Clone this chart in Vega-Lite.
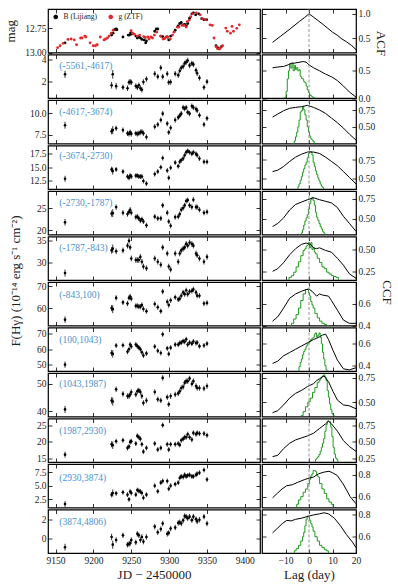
{
"$schema":"https://vega.github.io/schema/vega-lite/v6.json",
"padding":{"left":3,"top":7,"right":2,"bottom":2},
"background":"white",
"columns":2,"align":"each","bounds":"flush","spacing":{"row":1.5,"column":2},
"datasets":{
"top":[
{"b":"B (Lijiang)","t":9162.5,"m":12.90,"e":0.006},{"b":"B (Lijiang)","t":9224,"m":12.82,"e":0.006},{"b":"B (Lijiang)","t":9226,"m":12.80,"e":0.006},{"b":"B (Lijiang)","t":9228,"m":12.765,"e":0.006},{"b":"B (Lijiang)","t":9230,"m":12.755,"e":0.006},{"b":"B (Lijiang)","t":9231,"m":12.765,"e":0.006},{"b":"B (Lijiang)","t":9239,"m":12.84,"e":0.006},{"b":"B (Lijiang)","t":9246,"m":12.82,"e":0.006},{"b":"B (Lijiang)","t":9247.5,"m":12.82,"e":0.006},{"b":"B (Lijiang)","t":9249,"m":12.80,"e":0.006},{"b":"B (Lijiang)","t":9250,"m":12.81,"e":0.006},{"b":"B (Lijiang)","t":9256,"m":12.83,"e":0.006},{"b":"B (Lijiang)","t":9258,"m":12.85,"e":0.006},{"b":"B (Lijiang)","t":9260,"m":12.84,"e":0.006},{"b":"B (Lijiang)","t":9262,"m":12.85,"e":0.006},{"b":"B (Lijiang)","t":9264,"m":12.865,"e":0.006},{"b":"B (Lijiang)","t":9267,"m":12.87,"e":0.006},{"b":"B (Lijiang)","t":9269,"m":12.90,"e":0.006},{"b":"B (Lijiang)","t":9270,"m":12.88,"e":0.006},{"b":"B (Lijiang)","t":9281,"m":12.78,"e":0.006},{"b":"B (Lijiang)","t":9283,"m":12.757,"e":0.006},{"b":"B (Lijiang)","t":9285,"m":12.757,"e":0.006},{"b":"B (Lijiang)","t":9289,"m":12.83,"e":0.006},{"b":"B (Lijiang)","t":9291.5,"m":12.835,"e":0.006},{"b":"B (Lijiang)","t":9297.5,"m":12.84,"e":0.006},{"b":"B (Lijiang)","t":9299.5,"m":12.87,"e":0.006},{"b":"B (Lijiang)","t":9302,"m":12.83,"e":0.006},{"b":"B (Lijiang)","t":9308,"m":12.77,"e":0.006},{"b":"B (Lijiang)","t":9312,"m":12.724,"e":0.006},{"b":"B (Lijiang)","t":9314,"m":12.70,"e":0.006},{"b":"B (Lijiang)","t":9316,"m":12.69,"e":0.006},{"b":"B (Lijiang)","t":9318.5,"m":12.715,"e":0.006},{"b":"B (Lijiang)","t":9320.5,"m":12.71,"e":0.006},{"b":"B (Lijiang)","t":9322.5,"m":12.724,"e":0.006},{"b":"B (Lijiang)","t":9324.5,"m":12.70,"e":0.006},{"b":"B (Lijiang)","t":9327,"m":12.646,"e":0.006},{"b":"B (Lijiang)","t":9330,"m":12.60,"e":0.006},{"b":"B (Lijiang)","t":9332,"m":12.59,"e":0.006},{"b":"B (Lijiang)","t":9335,"m":12.61,"e":0.006},{"b":"B (Lijiang)","t":9339,"m":12.60,"e":0.006},{"b":"B (Lijiang)","t":9343,"m":12.65,"e":0.006},{"b":"B (Lijiang)","t":9346,"m":12.66,"e":0.006},{"b":"B (Lijiang)","t":9349.5,"m":12.66,"e":0.006},{"b":"B (Lijiang)","t":9362,"m":12.93,"e":0.006},{"b":"B (Lijiang)","t":9364,"m":12.95,"e":0.006},{"b":"B (Lijiang)","t":9366,"m":12.96,"e":0.006},{"b":"B (Lijiang)","t":9369,"m":12.94,"e":0.006},
{"b":"g (ZTF)","t":9152.7,"m":12.95,"e":0.006},{"b":"g (ZTF)","t":9156,"m":12.93,"e":0.006},{"b":"g (ZTF)","t":9160,"m":12.905,"e":0.006},{"b":"g (ZTF)","t":9166.4,"m":12.865,"e":0.006},{"b":"g (ZTF)","t":9170.6,"m":12.86,"e":0.006},{"b":"g (ZTF)","t":9174.75,"m":12.87,"e":0.006},{"b":"g (ZTF)","t":9177.7,"m":12.92,"e":0.006},{"b":"g (ZTF)","t":9183,"m":12.85,"e":0.006},{"b":"g (ZTF)","t":9185,"m":12.85,"e":0.006},{"b":"g (ZTF)","t":9188.5,"m":12.83,"e":0.006},{"b":"g (ZTF)","t":9190,"m":12.84,"e":0.006},{"b":"g (ZTF)","t":9195.6,"m":12.90,"e":0.006},{"b":"g (ZTF)","t":9199.75,"m":12.93,"e":0.006},{"b":"g (ZTF)","t":9202.7,"m":12.93,"e":0.006},{"b":"g (ZTF)","t":9205,"m":12.92,"e":0.006},{"b":"g (ZTF)","t":9209,"m":12.84,"e":0.006},{"b":"g (ZTF)","t":9214,"m":12.87,"e":0.006},{"b":"g (ZTF)","t":9216,"m":12.86,"e":0.006},{"b":"g (ZTF)","t":9218.5,"m":12.85,"e":0.006},{"b":"g (ZTF)","t":9220.6,"m":12.83,"e":0.006},{"b":"g (ZTF)","t":9223.5,"m":12.80,"e":0.006},{"b":"g (ZTF)","t":9226,"m":12.77,"e":0.006},{"b":"g (ZTF)","t":9249.75,"m":12.775,"e":0.006},{"b":"g (ZTF)","t":9251.8,"m":12.80,"e":0.006},{"b":"g (ZTF)","t":9254,"m":12.81,"e":0.006},{"b":"g (ZTF)","t":9258,"m":12.83,"e":0.006},{"b":"g (ZTF)","t":9261,"m":12.82,"e":0.006},{"b":"g (ZTF)","t":9266.4,"m":12.835,"e":0.006},{"b":"g (ZTF)","t":9268.5,"m":12.845,"e":0.006},{"b":"g (ZTF)","t":9271.8,"m":12.84,"e":0.006},{"b":"g (ZTF)","t":9273.5,"m":12.86,"e":0.006},{"b":"g (ZTF)","t":9276,"m":12.84,"e":0.006},{"b":"g (ZTF)","t":9278,"m":12.85,"e":0.006},{"b":"g (ZTF)","t":9280.5,"m":12.82,"e":0.006},{"b":"g (ZTF)","t":9283.5,"m":12.79,"e":0.006},{"b":"g (ZTF)","t":9289,"m":12.83,"e":0.006},{"b":"g (ZTF)","t":9292,"m":12.86,"e":0.006},{"b":"g (ZTF)","t":9294,"m":12.855,"e":0.006},{"b":"g (ZTF)","t":9296,"m":12.84,"e":0.006},{"b":"g (ZTF)","t":9298,"m":12.84,"e":0.006},{"b":"g (ZTF)","t":9301.5,"m":12.86,"e":0.006},{"b":"g (ZTF)","t":9304.5,"m":12.82,"e":0.006},{"b":"g (ZTF)","t":9306.5,"m":12.79,"e":0.006},{"b":"g (ZTF)","t":9310.7,"m":12.737,"e":0.006},{"b":"g (ZTF)","t":9312.8,"m":12.737,"e":0.006},{"b":"g (ZTF)","t":9317,"m":12.72,"e":0.006},{"b":"g (ZTF)","t":9319.8,"m":12.72,"e":0.006},{"b":"g (ZTF)","t":9322.5,"m":12.737,"e":0.006},{"b":"g (ZTF)","t":9324,"m":12.68,"e":0.006},{"b":"g (ZTF)","t":9326.5,"m":12.665,"e":0.006},{"b":"g (ZTF)","t":9328.5,"m":12.63,"e":0.006},{"b":"g (ZTF)","t":9331,"m":12.60,"e":0.006},{"b":"g (ZTF)","t":9336,"m":12.59,"e":0.006},{"b":"g (ZTF)","t":9341,"m":12.61,"e":0.006},{"b":"g (ZTF)","t":9344,"m":12.65,"e":0.006},{"b":"g (ZTF)","t":9348,"m":12.66,"e":0.006},{"b":"g (ZTF)","t":9354,"m":12.714,"e":0.006},{"b":"g (ZTF)","t":9357,"m":12.72,"e":0.006},{"b":"g (ZTF)","t":9359.3,"m":12.85,"e":0.006},{"b":"g (ZTF)","t":9362,"m":12.94,"e":0.006},{"b":"g (ZTF)","t":9364,"m":12.96,"e":0.006},{"b":"g (ZTF)","t":9366.4,"m":12.965,"e":0.006},{"b":"g (ZTF)","t":9368,"m":12.95,"e":0.006},{"b":"g (ZTF)","t":9370.6,"m":12.93,"e":0.006},{"b":"g (ZTF)","t":9374.75,"m":12.747,"e":0.006},{"b":"g (ZTF)","t":9376.8,"m":12.78,"e":0.006},{"b":"g (ZTF)","t":9381,"m":12.80,"e":0.006},{"b":"g (ZTF)","t":9383,"m":12.73,"e":0.006},{"b":"g (ZTF)","t":9385,"m":12.78,"e":0.006},{"b":"g (ZTF)","t":9389.3,"m":12.75,"e":0.006},{"b":"g (ZTF)","t":9392.7,"m":12.714,"e":0.006}
],
"lc":[
{"r":2,"t":9162.5,"f":2.68,"e":0.33},{"r":2,"t":9224,"f":1.67,"e":0.3},{"r":2,"t":9225.5,"f":2.68,"e":0.4},{"r":2,"t":9230,"f":1.59,"e":0.3},{"r":2,"t":9239,"f":1.48,"e":0.25},{"r":2,"t":9245,"f":1.4,"e":0.25},{"r":2,"t":9247,"f":1.94,"e":0.25},{"r":2,"t":9248.5,"f":1.99,"e":0.25},{"r":2,"t":9250,"f":1.94,"e":0.25},{"r":2,"t":9256,"f":1.6,"e":0.25},{"r":2,"t":9258,"f":1.48,"e":0.25},{"r":2,"t":9260,"f":1.67,"e":0.25},{"r":2,"t":9262,"f":1.4,"e":0.25},{"r":2,"t":9264,"f":1.26,"e":0.25},{"r":2,"t":9266,"f":1.97,"e":0.25},{"r":2,"t":9270,"f":2.24,"e":0.25},{"r":2,"t":9281,"f":2.73,"e":0.25},{"r":2,"t":9285,"f":2.46,"e":0.25},{"r":2,"t":9289,"f":3.28,"e":0.25},{"r":2,"t":9291.5,"f":2.46,"e":0.25},{"r":2,"t":9297.5,"f":2.73,"e":0.25},{"r":2,"t":9299.5,"f":1.94,"e":0.25},{"r":2,"t":9302,"f":1.97,"e":0.25},{"r":2,"t":9308,"f":2.73,"e":0.25},{"r":2,"t":9312,"f":2.6,"e":0.25},{"r":2,"t":9314,"f":3.0,"e":0.25},{"r":2,"t":9316,"f":3.28,"e":0.25},{"r":2,"t":9318.5,"f":3.4,"e":0.25},{"r":2,"t":9320.5,"f":3.68,"e":0.25},{"r":2,"t":9322.5,"f":3.8,"e":0.25},{"r":2,"t":9324.5,"f":3.95,"e":0.25},{"r":2,"t":9327,"f":3.5,"e":0.25},{"r":2,"t":9330,"f":3.68,"e":0.25},{"r":2,"t":9332,"f":3.59,"e":0.25},{"r":2,"t":9335.5,"f":3.05,"e":0.25},{"r":2,"t":9337,"f":2.77,"e":0.25},{"r":2,"t":9340,"f":2.35,"e":0.25},{"r":2,"t":9346,"f":1.48,"e":0.25},{"r":2,"t":9350,"f":2.0,"e":0.25},
{"r":3,"t":9162.5,"f":8.6,"e":0.4},{"r":3,"t":9224,"f":7.9,"e":0.35},{"r":3,"t":9225.5,"f":8.04,"e":0.45},{"r":3,"t":9230,"f":8.25,"e":0.3},{"r":3,"t":9239,"f":8.04,"e":0.3},{"r":3,"t":9245,"f":7.67,"e":0.3},{"r":3,"t":9247,"f":7.6,"e":0.3},{"r":3,"t":9248.5,"f":7.8,"e":0.3},{"r":3,"t":9250,"f":7.6,"e":0.3},{"r":3,"t":9256,"f":7.67,"e":0.3},{"r":3,"t":9258,"f":7.6,"e":0.3},{"r":3,"t":9260,"f":7.67,"e":0.3},{"r":3,"t":9262,"f":7.8,"e":0.3},{"r":3,"t":9264,"f":7.85,"e":0.3},{"r":3,"t":9266,"f":7.67,"e":0.3},{"r":3,"t":9270,"f":7.25,"e":0.3},{"r":3,"t":9281,"f":8.43,"e":0.3},{"r":3,"t":9285,"f":8.68,"e":0.3},{"r":3,"t":9289,"f":9.2,"e":0.3},{"r":3,"t":9291.5,"f":9.93,"e":0.3},{"r":3,"t":9297.5,"f":8.79,"e":0.3},{"r":3,"t":9299.5,"f":7.78,"e":0.3},{"r":3,"t":9302,"f":8.3,"e":0.3},{"r":3,"t":9308,"f":9.2,"e":0.3},{"r":3,"t":9312,"f":9.5,"e":0.3},{"r":3,"t":9314,"f":9.7,"e":0.3},{"r":3,"t":9316,"f":9.93,"e":0.3},{"r":3,"t":9318.5,"f":10.64,"e":0.3},{"r":3,"t":9320.5,"f":10.5,"e":0.3},{"r":3,"t":9322.5,"f":10.64,"e":0.3},{"r":3,"t":9324.5,"f":10.1,"e":0.3},{"r":3,"t":9327,"f":9.93,"e":0.3},{"r":3,"t":9330,"f":10.8,"e":0.3},{"r":3,"t":9332,"f":10.64,"e":0.3},{"r":3,"t":9335.5,"f":10.46,"e":0.3},{"r":3,"t":9337,"f":10.29,"e":0.3},{"r":3,"t":9340,"f":9.75,"e":0.3},{"r":3,"t":9346,"f":8.68,"e":0.3},{"r":3,"t":9350,"f":9.39,"e":0.3},
{"r":4,"t":9162.5,"f":12.88,"e":0.55},{"r":4,"t":9224,"f":14.6,"e":0.5},{"r":4,"t":9225.5,"f":14.3,"e":0.65},{"r":4,"t":9230,"f":14.6,"e":0.45},{"r":4,"t":9239,"f":14.2,"e":0.45},{"r":4,"t":9245,"f":13.3,"e":0.45},{"r":4,"t":9247,"f":13.05,"e":0.45},{"r":4,"t":9248.5,"f":13.45,"e":0.45},{"r":4,"t":9250,"f":13.3,"e":0.45},{"r":4,"t":9256,"f":13.45,"e":0.45},{"r":4,"t":9258,"f":13.45,"e":0.45},{"r":4,"t":9260,"f":13.3,"e":0.45},{"r":4,"t":9262,"f":13.3,"e":0.45},{"r":4,"t":9264,"f":13.3,"e":0.45},{"r":4,"t":9266,"f":12.47,"e":0.45},{"r":4,"t":9270,"f":12.0,"e":0.45},{"r":4,"t":9281,"f":13.74,"e":0.45},{"r":4,"t":9285,"f":14.2,"e":0.45},{"r":4,"t":9289,"f":15.0,"e":0.45},{"r":4,"t":9291.5,"f":16.7,"e":0.45},{"r":4,"t":9297.5,"f":14.4,"e":0.45},{"r":4,"t":9299.5,"f":13.05,"e":0.45},{"r":4,"t":9302,"f":14.9,"e":0.45},{"r":4,"t":9308,"f":15.86,"e":0.45},{"r":4,"t":9312,"f":15.2,"e":0.45},{"r":4,"t":9314,"f":16.0,"e":0.45},{"r":4,"t":9316,"f":16.3,"e":0.45},{"r":4,"t":9318.5,"f":16.6,"e":0.45},{"r":4,"t":9320.5,"f":17.2,"e":0.45},{"r":4,"t":9322.5,"f":17.76,"e":0.45},{"r":4,"t":9324.5,"f":18.0,"e":0.45},{"r":4,"t":9327,"f":17.76,"e":0.45},{"r":4,"t":9330,"f":17.47,"e":0.45},{"r":4,"t":9332,"f":17.76,"e":0.45},{"r":4,"t":9335.5,"f":17.47,"e":0.45},{"r":4,"t":9337,"f":17.2,"e":0.45},{"r":4,"t":9340,"f":16.6,"e":0.45},{"r":4,"t":9346,"f":16.0,"e":0.45},{"r":4,"t":9350,"f":16.0,"e":0.45},
{"r":5,"t":9162.5,"f":21.8,"e":0.75},{"r":5,"t":9224,"f":23.8,"e":0.7},{"r":5,"t":9225.5,"f":23.9,"e":0.9},{"r":5,"t":9230,"f":25.3,"e":0.6},{"r":5,"t":9239,"f":24.0,"e":0.6},{"r":5,"t":9245,"f":23.7,"e":0.6},{"r":5,"t":9247,"f":24.2,"e":0.6},{"r":5,"t":9248.5,"f":24.7,"e":0.6},{"r":5,"t":9250,"f":24.0,"e":0.6},{"r":5,"t":9256,"f":23.0,"e":0.6},{"r":5,"t":9258,"f":23.1,"e":0.6},{"r":5,"t":9260,"f":22.7,"e":0.6},{"r":5,"t":9262,"f":22.2,"e":0.6},{"r":5,"t":9264,"f":22.5,"e":0.6},{"r":5,"t":9266,"f":22.0,"e":0.6},{"r":5,"t":9270,"f":21.1,"e":0.6},{"r":5,"t":9281,"f":23.1,"e":0.6},{"r":5,"t":9285,"f":22.7,"e":0.6},{"r":5,"t":9289,"f":22.7,"e":0.6},{"r":5,"t":9291.5,"f":25.7,"e":0.6},{"r":5,"t":9297.5,"f":24.0,"e":0.6},{"r":5,"t":9299.5,"f":22.0,"e":0.6},{"r":5,"t":9302,"f":21.0,"e":0.6},{"r":5,"t":9308,"f":23.0,"e":0.6},{"r":5,"t":9312,"f":23.1,"e":0.6},{"r":5,"t":9314,"f":23.7,"e":0.6},{"r":5,"t":9316,"f":24.7,"e":0.6},{"r":5,"t":9318.5,"f":25.1,"e":0.6},{"r":5,"t":9320.5,"f":25.7,"e":0.6},{"r":5,"t":9322.5,"f":26.7,"e":0.6},{"r":5,"t":9324.5,"f":26.9,"e":0.6},{"r":5,"t":9327,"f":25.7,"e":0.6},{"r":5,"t":9330,"f":25.3,"e":0.6},{"r":5,"t":9332,"f":27.0,"e":0.6},{"r":5,"t":9335.5,"f":25.3,"e":0.6},{"r":5,"t":9337,"f":25.3,"e":0.6},{"r":5,"t":9340,"f":24.7,"e":0.6},{"r":5,"t":9346,"f":24.0,"e":0.6},{"r":5,"t":9350,"f":24.2,"e":0.6},
{"r":6,"t":9162.5,"f":27.6,"e":0.8},{"r":6,"t":9224,"f":32.8,"e":0.75},{"r":6,"t":9225.5,"f":33.2,"e":0.95},{"r":6,"t":9230,"f":32.6,"e":0.65},{"r":6,"t":9239,"f":32.8,"e":0.65},{"r":6,"t":9245,"f":33.9,"e":0.65},{"r":6,"t":9247,"f":35.0,"e":0.65},{"r":6,"t":9248.5,"f":33.5,"e":0.65},{"r":6,"t":9250,"f":30.95,"e":0.65},{"r":6,"t":9256,"f":30.6,"e":0.65},{"r":6,"t":9258,"f":30.6,"e":0.65},{"r":6,"t":9260,"f":30.6,"e":0.65},{"r":6,"t":9262,"f":31.3,"e":0.65},{"r":6,"t":9264,"f":30.2,"e":0.65},{"r":6,"t":9266,"f":29.1,"e":0.65},{"r":6,"t":9270,"f":28.7,"e":0.65},{"r":6,"t":9281,"f":30.95,"e":0.65},{"r":6,"t":9285,"f":30.2,"e":0.65},{"r":6,"t":9289,"f":29.5,"e":0.65},{"r":6,"t":9291.5,"f":33.5,"e":0.65},{"r":6,"t":9297.5,"f":32.1,"e":0.65},{"r":6,"t":9299.5,"f":29.1,"e":0.65},{"r":6,"t":9302,"f":28.4,"e":0.65},{"r":6,"t":9308,"f":32.1,"e":0.65},{"r":6,"t":9312,"f":30.2,"e":0.65},{"r":6,"t":9314,"f":32.1,"e":0.65},{"r":6,"t":9316,"f":32.8,"e":0.65},{"r":6,"t":9318.5,"f":33.2,"e":0.65},{"r":6,"t":9320.5,"f":33.5,"e":0.65},{"r":6,"t":9322.5,"f":34.3,"e":0.65},{"r":6,"t":9324.5,"f":33.9,"e":0.65},{"r":6,"t":9327,"f":34.6,"e":0.65},{"r":6,"t":9330,"f":34.3,"e":0.65},{"r":6,"t":9332,"f":33.9,"e":0.65},{"r":6,"t":9335.5,"f":32.1,"e":0.65},{"r":6,"t":9337,"f":31.7,"e":0.65},{"r":6,"t":9340,"f":30.95,"e":0.65},{"r":6,"t":9346,"f":30.2,"e":0.65},{"r":6,"t":9350,"f":31.3,"e":0.65},
{"r":7,"t":9162.5,"f":54.7,"e":1.5},{"r":7,"t":9224,"f":60.0,"e":1.4},{"r":7,"t":9225.5,"f":59.5,"e":1.8},{"r":7,"t":9230,"f":64.7,"e":1.2},{"r":7,"t":9239,"f":62.6,"e":1.2},{"r":7,"t":9245,"f":62.1,"e":1.2},{"r":7,"t":9247,"f":64.7,"e":1.2},{"r":7,"t":9248.5,"f":65.3,"e":1.2},{"r":7,"t":9250,"f":64.3,"e":1.2},{"r":7,"t":9256,"f":61.0,"e":1.2},{"r":7,"t":9258,"f":61.0,"e":1.2},{"r":7,"t":9260,"f":60.7,"e":1.2},{"r":7,"t":9262,"f":60.7,"e":1.2},{"r":7,"t":9264,"f":61.4,"e":1.2},{"r":7,"t":9266,"f":59.6,"e":1.2},{"r":7,"t":9270,"f":58.6,"e":1.2},{"r":7,"t":9281,"f":61.9,"e":1.2},{"r":7,"t":9285,"f":60.4,"e":1.2},{"r":7,"t":9289,"f":58.6,"e":1.2},{"r":7,"t":9291.5,"f":67.6,"e":1.2},{"r":7,"t":9297.5,"f":62.9,"e":1.2},{"r":7,"t":9299.5,"f":61.4,"e":1.2},{"r":7,"t":9302,"f":63.6,"e":1.2},{"r":7,"t":9308,"f":65.0,"e":1.2},{"r":7,"t":9312,"f":64.0,"e":1.2},{"r":7,"t":9314,"f":64.3,"e":1.2},{"r":7,"t":9316,"f":65.7,"e":1.2},{"r":7,"t":9318.5,"f":67.2,"e":1.2},{"r":7,"t":9320.5,"f":66.4,"e":1.2},{"r":7,"t":9322.5,"f":68.2,"e":1.2},{"r":7,"t":9324.5,"f":66.4,"e":1.2},{"r":7,"t":9327,"f":67.6,"e":1.2},{"r":7,"t":9330,"f":67.9,"e":1.2},{"r":7,"t":9332,"f":68.6,"e":1.2},{"r":7,"t":9335.5,"f":67.2,"e":1.2},{"r":7,"t":9337,"f":65.7,"e":1.2},{"r":7,"t":9340,"f":65.7,"e":1.2},{"r":7,"t":9346,"f":62.1,"e":1.2},{"r":7,"t":9350,"f":62.4,"e":1.2},
{"r":8,"t":9162.5,"f":50.1,"e":2.0},{"r":8,"t":9224,"f":57.6,"e":1.9},{"r":8,"t":9225.5,"f":57.0,"e":2.4},{"r":8,"t":9230,"f":62.4,"e":1.6},{"r":8,"t":9239,"f":62.6,"e":1.6},{"r":8,"t":9245,"f":58.4,"e":1.6},{"r":8,"t":9247,"f":60.0,"e":1.6},{"r":8,"t":9248.5,"f":63.0,"e":1.6},{"r":8,"t":9250,"f":61.8,"e":1.6},{"r":8,"t":9256,"f":63.0,"e":1.6},{"r":8,"t":9258,"f":62.0,"e":1.6},{"r":8,"t":9260,"f":61.0,"e":1.6},{"r":8,"t":9262,"f":60.0,"e":1.6},{"r":8,"t":9264,"f":58.0,"e":1.6},{"r":8,"t":9266,"f":56.0,"e":1.6},{"r":8,"t":9270,"f":57.3,"e":1.6},{"r":8,"t":9281,"f":61.8,"e":1.6},{"r":8,"t":9285,"f":59.0,"e":1.6},{"r":8,"t":9289,"f":57.6,"e":1.6},{"r":8,"t":9291.5,"f":69.6,"e":1.6},{"r":8,"t":9297.5,"f":60.6,"e":1.6},{"r":8,"t":9299.5,"f":57.0,"e":1.6},{"r":8,"t":9302,"f":61.0,"e":1.6},{"r":8,"t":9308,"f":63.0,"e":1.6},{"r":8,"t":9312,"f":63.0,"e":1.6},{"r":8,"t":9314,"f":64.0,"e":1.6},{"r":8,"t":9316,"f":64.3,"e":1.6},{"r":8,"t":9318.5,"f":65.2,"e":1.6},{"r":8,"t":9320.5,"f":64.8,"e":1.6},{"r":8,"t":9322.5,"f":66.4,"e":1.6},{"r":8,"t":9324.5,"f":63.0,"e":1.6},{"r":8,"t":9327,"f":64.3,"e":1.6},{"r":8,"t":9330,"f":63.6,"e":1.6},{"r":8,"t":9332,"f":65.0,"e":1.6},{"r":8,"t":9335.5,"f":64.0,"e":1.6},{"r":8,"t":9337,"f":64.3,"e":1.6},{"r":8,"t":9340,"f":62.0,"e":1.6},{"r":8,"t":9346,"f":62.4,"e":1.6},{"r":8,"t":9350,"f":63.6,"e":1.6},
{"r":9,"t":9162.5,"f":40.6,"e":1.3},{"r":9,"t":9224,"f":43.9,"e":1.2},{"r":9,"t":9225.5,"f":43.5,"e":1.5},{"r":9,"t":9230,"f":48.0,"e":1.0},{"r":9,"t":9239,"f":46.3,"e":1.0},{"r":9,"t":9245,"f":45.5,"e":1.0},{"r":9,"t":9247,"f":45.5,"e":1.0},{"r":9,"t":9248.5,"f":46.1,"e":1.0},{"r":9,"t":9250,"f":47.0,"e":1.0},{"r":9,"t":9256,"f":46.1,"e":1.0},{"r":9,"t":9258,"f":47.3,"e":1.0},{"r":9,"t":9260,"f":47.6,"e":1.0},{"r":9,"t":9262,"f":47.0,"e":1.0},{"r":9,"t":9264,"f":45.5,"e":1.0},{"r":9,"t":9266,"f":43.0,"e":1.0},{"r":9,"t":9270,"f":43.9,"e":1.0},{"r":9,"t":9281,"f":47.0,"e":1.0},{"r":9,"t":9285,"f":44.3,"e":1.0},{"r":9,"t":9289,"f":43.9,"e":1.0},{"r":9,"t":9291.5,"f":52.2,"e":1.0},{"r":9,"t":9297.5,"f":45.1,"e":1.0},{"r":9,"t":9299.5,"f":42.5,"e":1.0},{"r":9,"t":9302,"f":45.5,"e":1.0},{"r":9,"t":9308,"f":46.1,"e":1.0},{"r":9,"t":9312,"f":46.5,"e":1.0},{"r":9,"t":9314,"f":47.3,"e":1.0},{"r":9,"t":9316,"f":48.5,"e":1.0},{"r":9,"t":9318.5,"f":48.9,"e":1.0},{"r":9,"t":9320.5,"f":50.4,"e":1.0},{"r":9,"t":9322.5,"f":51.0,"e":1.0},{"r":9,"t":9324.5,"f":51.0,"e":1.0},{"r":9,"t":9327,"f":52.0,"e":1.0},{"r":9,"t":9330,"f":50.0,"e":1.0},{"r":9,"t":9332,"f":51.0,"e":1.0},{"r":9,"t":9335.5,"f":49.2,"e":1.0},{"r":9,"t":9337,"f":48.5,"e":1.0},{"r":9,"t":9340,"f":48.5,"e":1.0},{"r":9,"t":9346,"f":48.3,"e":1.0},{"r":9,"t":9350,"f":49.2,"e":1.0},
{"r":10,"t":9162.5,"f":16.2,"e":0.9},{"r":10,"t":9224,"f":19.3,"e":0.9},{"r":10,"t":9225.5,"f":19.0,"e":1.1},{"r":10,"t":9230,"f":20.2,"e":0.75},{"r":10,"t":9239,"f":20.5,"e":0.75},{"r":10,"t":9245,"f":18.2,"e":0.75},{"r":10,"t":9247,"f":18.6,"e":0.75},{"r":10,"t":9248.5,"f":20.0,"e":0.75},{"r":10,"t":9250,"f":20.2,"e":0.75},{"r":10,"t":9256,"f":19.5,"e":0.75},{"r":10,"t":9258,"f":21.8,"e":0.75},{"r":10,"t":9260,"f":21.4,"e":0.75},{"r":10,"t":9262,"f":20.9,"e":0.75},{"r":10,"t":9264,"f":19.3,"e":0.75},{"r":10,"t":9266,"f":17.1,"e":0.75},{"r":10,"t":9270,"f":18.2,"e":0.75},{"r":10,"t":9281,"f":19.5,"e":0.75},{"r":10,"t":9285,"f":17.7,"e":0.75},{"r":10,"t":9289,"f":18.2,"e":0.75},{"r":10,"t":9291.5,"f":25.0,"e":0.75},{"r":10,"t":9297.5,"f":19.3,"e":0.75},{"r":10,"t":9299.5,"f":17.7,"e":0.75},{"r":10,"t":9302,"f":19.3,"e":0.75},{"r":10,"t":9308,"f":19.3,"e":0.75},{"r":10,"t":9312,"f":19.5,"e":0.75},{"r":10,"t":9314,"f":19.1,"e":0.75},{"r":10,"t":9316,"f":20.5,"e":0.75},{"r":10,"t":9318.5,"f":20.9,"e":0.75},{"r":10,"t":9320.5,"f":21.4,"e":0.75},{"r":10,"t":9322.5,"f":21.4,"e":0.75},{"r":10,"t":9324.5,"f":22.3,"e":0.75},{"r":10,"t":9327,"f":21.4,"e":0.75},{"r":10,"t":9330,"f":20.7,"e":0.75},{"r":10,"t":9332,"f":22.7,"e":0.75},{"r":10,"t":9335.5,"f":22.3,"e":0.75},{"r":10,"t":9337,"f":22.7,"e":0.75},{"r":10,"t":9340,"f":22.5,"e":0.75},{"r":10,"t":9346,"f":22.5,"e":0.75},{"r":10,"t":9350,"f":22.0,"e":0.75},
{"r":11,"t":9162.5,"f":1.64,"e":0.55},{"r":11,"t":9224,"f":3.36,"e":0.5},{"r":11,"t":9225.5,"f":3.66,"e":0.65},{"r":11,"t":9230,"f":3.6,"e":0.45},{"r":11,"t":9239,"f":3.8,"e":0.45},{"r":11,"t":9245,"f":3.36,"e":0.45},{"r":11,"t":9247,"f":2.5,"e":0.45},{"r":11,"t":9248.5,"f":3.93,"e":0.45},{"r":11,"t":9250,"f":3.66,"e":0.45},{"r":11,"t":9256,"f":3.36,"e":0.45},{"r":11,"t":9258,"f":4.2,"e":0.45},{"r":11,"t":9260,"f":4.05,"e":0.45},{"r":11,"t":9262,"f":3.93,"e":0.45},{"r":11,"t":9264,"f":3.66,"e":0.45},{"r":11,"t":9266,"f":2.8,"e":0.45},{"r":11,"t":9270,"f":3.36,"e":0.45},{"r":11,"t":9281,"f":5.0,"e":0.45},{"r":11,"t":9285,"f":3.97,"e":0.45},{"r":11,"t":9289,"f":5.57,"e":0.45},{"r":11,"t":9291.5,"f":5.86,"e":0.45},{"r":11,"t":9297.5,"f":5.86,"e":0.45},{"r":11,"t":9299.5,"f":4.43,"e":0.45},{"r":11,"t":9302,"f":5.0,"e":0.45},{"r":11,"t":9308,"f":5.29,"e":0.45},{"r":11,"t":9312,"f":5.57,"e":0.45},{"r":11,"t":9314,"f":6.43,"e":0.45},{"r":11,"t":9316,"f":6.72,"e":0.45},{"r":11,"t":9318.5,"f":6.6,"e":0.45},{"r":11,"t":9320.5,"f":7.0,"e":0.45},{"r":11,"t":9322.5,"f":6.72,"e":0.45},{"r":11,"t":9324.5,"f":6.9,"e":0.45},{"r":11,"t":9327,"f":7.0,"e":0.45},{"r":11,"t":9330,"f":6.72,"e":0.45},{"r":11,"t":9332,"f":6.72,"e":0.45},{"r":11,"t":9335.5,"f":7.0,"e":0.45},{"r":11,"t":9337,"f":7.2,"e":0.45},{"r":11,"t":9340,"f":7.4,"e":0.45},{"r":11,"t":9346,"f":7.9,"e":0.45},{"r":11,"t":9350,"f":6.15,"e":0.45},
{"r":12,"t":9162.5,"f":-0.9,"e":0.35},{"r":12,"t":9224,"f":0.16,"e":0.33},{"r":12,"t":9225.5,"f":-0.64,"e":0.42},{"r":12,"t":9230,"f":-0.16,"e":0.28},{"r":12,"t":9239,"f":0.33,"e":0.28},{"r":12,"t":9245,"f":-0.64,"e":0.28},{"r":12,"t":9247,"f":-0.57,"e":0.28},{"r":12,"t":9248.5,"f":-0.48,"e":0.28},{"r":12,"t":9250,"f":-0.16,"e":0.28},{"r":12,"t":9256,"f":-0.4,"e":0.28},{"r":12,"t":9258,"f":0.48,"e":0.28},{"r":12,"t":9260,"f":0.33,"e":0.28},{"r":12,"t":9262,"f":-0.16,"e":0.28},{"r":12,"t":9264,"f":0.16,"e":0.28},{"r":12,"t":9266,"f":-0.32,"e":0.28},{"r":12,"t":9270,"f":0.16,"e":0.28},{"r":12,"t":9281,"f":1.23,"e":0.28},{"r":12,"t":9285,"f":0.65,"e":0.28},{"r":12,"t":9289,"f":0.97,"e":0.28},{"r":12,"t":9291.5,"f":1.55,"e":0.28},{"r":12,"t":9297.5,"f":0.48,"e":0.28},{"r":12,"t":9299.5,"f":0.58,"e":0.28},{"r":12,"t":9302,"f":1.03,"e":0.28},{"r":12,"t":9308,"f":1.13,"e":0.28},{"r":12,"t":9312,"f":1.61,"e":0.28},{"r":12,"t":9314,"f":1.68,"e":0.28},{"r":12,"t":9316,"f":1.55,"e":0.28},{"r":12,"t":9318.5,"f":1.87,"e":0.28},{"r":12,"t":9320.5,"f":2.32,"e":0.28},{"r":12,"t":9322.5,"f":2.26,"e":0.28},{"r":12,"t":9324.5,"f":2.1,"e":0.28},{"r":12,"t":9327,"f":2.26,"e":0.28},{"r":12,"t":9330,"f":1.9,"e":0.28},{"r":12,"t":9332,"f":2.26,"e":0.28},{"r":12,"t":9335.5,"f":2.0,"e":0.28},{"r":12,"t":9337,"f":1.77,"e":0.28},{"r":12,"t":9340,"f":1.94,"e":0.28},{"r":12,"t":9346,"f":2.26,"e":0.28},{"r":12,"t":9350,"f":1.55,"e":0.28}
],
"cc":[
{"r":1,"l":-15.5,"c":0.41},{"r":1,"l":-12,"c":0.54},{"r":1,"l":-8,"c":0.69},{"r":1,"l":-4,"c":0.845},{"r":1,"l":-2,"c":0.92},{"r":1,"l":0,"c":1.0},{"r":1,"l":2,"c":0.93},{"r":1,"l":4,"c":0.855},{"r":1,"l":6,"c":0.78},{"r":1,"l":8,"c":0.70},{"r":1,"l":10,"c":0.62},{"r":1,"l":12,"c":0.56},{"r":1,"l":14,"c":0.48},{"r":1,"l":16,"c":0.42},{"r":1,"l":18,"c":0.35},{"r":1,"l":20,"c":0.26},
{"r":2,"l":-15.5,"c":0.556},{"r":2,"l":-13.3,"c":0.57},{"r":2,"l":-10.8,"c":0.58},{"r":2,"l":-8.9,"c":0.61},{"r":2,"l":-7.6,"c":0.64},{"r":2,"l":-6.3,"c":0.64},{"r":2,"l":-5.1,"c":0.65},{"r":2,"l":-2.5,"c":0.67},{"r":2,"l":-1.25,"c":0.66},{"r":2,"l":0,"c":0.61},{"r":2,"l":1.9,"c":0.556},{"r":2,"l":4.5,"c":0.5},{"r":2,"l":7,"c":0.44},{"r":2,"l":9.6,"c":0.39},{"r":2,"l":12.1,"c":0.32},{"r":2,"l":14.65,"c":0.22},{"r":2,"l":17.2,"c":0.11},{"r":2,"l":20,"c":0.017},
{"r":3,"l":-15.5,"c":0.645},{"r":3,"l":-13.3,"c":0.69},{"r":3,"l":-10.8,"c":0.74},{"r":3,"l":-8.25,"c":0.776},{"r":3,"l":-5.7,"c":0.79},{"r":3,"l":-3.16,"c":0.80},{"r":3,"l":-0.62,"c":0.82},{"r":3,"l":1.93,"c":0.79},{"r":3,"l":4.47,"c":0.75},{"r":3,"l":7.02,"c":0.70},{"r":3,"l":9.56,"c":0.63},{"r":3,"l":12.1,"c":0.56},{"r":3,"l":14.65,"c":0.48},{"r":3,"l":17.2,"c":0.39},{"r":3,"l":20,"c":0.30},
{"r":4,"l":-15.5,"c":0.59},{"r":4,"l":-13.3,"c":0.61},{"r":4,"l":-10.8,"c":0.66},{"r":4,"l":-8.25,"c":0.73},{"r":4,"l":-5.7,"c":0.79},{"r":4,"l":-3.16,"c":0.83},{"r":4,"l":-0.62,"c":0.86},{"r":4,"l":1.93,"c":0.86},{"r":4,"l":4.47,"c":0.84},{"r":4,"l":7.02,"c":0.79},{"r":4,"l":9.56,"c":0.73},{"r":4,"l":12.1,"c":0.67},{"r":4,"l":14.65,"c":0.59},{"r":4,"l":17.2,"c":0.51},{"r":4,"l":20,"c":0.42},
{"r":5,"l":-15.5,"c":0.40},{"r":5,"l":-13.3,"c":0.44},{"r":5,"l":-10.8,"c":0.51},{"r":5,"l":-8.25,"c":0.61},{"r":5,"l":-5.7,"c":0.68},{"r":5,"l":-3.16,"c":0.71},{"r":5,"l":-0.62,"c":0.74},{"r":5,"l":1.93,"c":0.765},{"r":5,"l":4.47,"c":0.74},{"r":5,"l":7.02,"c":0.72},{"r":5,"l":9.56,"c":0.70},{"r":5,"l":12.1,"c":0.64},{"r":5,"l":14.65,"c":0.53},{"r":5,"l":17.2,"c":0.44},{"r":5,"l":20,"c":0.34},
{"r":6,"l":-15.5,"c":0.25},{"r":6,"l":-13.3,"c":0.28},{"r":6,"l":-10.8,"c":0.35},{"r":6,"l":-8.25,"c":0.44},{"r":6,"l":-5.7,"c":0.51},{"r":6,"l":-3.16,"c":0.56},{"r":6,"l":-1.25,"c":0.575},{"r":6,"l":0.66,"c":0.56},{"r":6,"l":1.93,"c":0.52},{"r":6,"l":3.2,"c":0.51},{"r":6,"l":4.47,"c":0.52},{"r":6,"l":7.02,"c":0.49},{"r":6,"l":9.56,"c":0.47},{"r":6,"l":12.1,"c":0.40},{"r":6,"l":14.65,"c":0.32},{"r":6,"l":17.2,"c":0.22},{"r":6,"l":20,"c":0.17},
{"r":7,"l":-15.5,"c":0.44},{"r":7,"l":-13.3,"c":0.48},{"r":7,"l":-10.8,"c":0.56},{"r":7,"l":-8.25,"c":0.65},{"r":7,"l":-5.7,"c":0.69},{"r":7,"l":-3.16,"c":0.715},{"r":7,"l":-1.25,"c":0.73},{"r":7,"l":0,"c":0.735},{"r":7,"l":1.29,"c":0.715},{"r":7,"l":3.2,"c":0.67},{"r":7,"l":4.47,"c":0.69},{"r":7,"l":5.75,"c":0.68},{"r":7,"l":8.3,"c":0.67},{"r":7,"l":9.56,"c":0.63},{"r":7,"l":12.1,"c":0.54},{"r":7,"l":14.65,"c":0.45},{"r":7,"l":17.2,"c":0.42},{"r":7,"l":20,"c":0.42},
{"r":8,"l":-15.5,"c":0.42},{"r":8,"l":-13.3,"c":0.44},{"r":8,"l":-10.8,"c":0.49},{"r":8,"l":-8.25,"c":0.52},{"r":8,"l":-5.7,"c":0.55},{"r":8,"l":-3.16,"c":0.58},{"r":8,"l":-0.62,"c":0.61},{"r":8,"l":1.93,"c":0.64},{"r":8,"l":3.2,"c":0.65},{"r":8,"l":4.47,"c":0.665},{"r":8,"l":5.75,"c":0.68},{"r":8,"l":7.02,"c":0.69},{"r":8,"l":8.3,"c":0.64},{"r":8,"l":10.2,"c":0.54},{"r":8,"l":12.1,"c":0.45},{"r":8,"l":14.65,"c":0.37},{"r":8,"l":17.2,"c":0.36},{"r":8,"l":20,"c":0.38},
{"r":9,"l":-15.5,"c":0.39},{"r":9,"l":-13.3,"c":0.41},{"r":9,"l":-10.8,"c":0.47},{"r":9,"l":-8.25,"c":0.54},{"r":9,"l":-5.7,"c":0.59},{"r":9,"l":-3.16,"c":0.62},{"r":9,"l":-0.62,"c":0.66},{"r":9,"l":1.93,"c":0.69},{"r":9,"l":3.2,"c":0.72},{"r":9,"l":4.47,"c":0.74},{"r":9,"l":6.4,"c":0.77},{"r":9,"l":8.3,"c":0.71},{"r":9,"l":10.2,"c":0.61},{"r":9,"l":12.1,"c":0.52},{"r":9,"l":14.65,"c":0.47},{"r":9,"l":17.2,"c":0.46},{"r":9,"l":20,"c":0.43},
{"r":10,"l":-15.5,"c":0.28},{"r":10,"l":-13.3,"c":0.30},{"r":10,"l":-10.8,"c":0.40},{"r":10,"l":-8.25,"c":0.48},{"r":10,"l":-5.7,"c":0.53},{"r":10,"l":-3.16,"c":0.56},{"r":10,"l":-0.62,"c":0.59},{"r":10,"l":1.93,"c":0.63},{"r":10,"l":4.47,"c":0.70},{"r":10,"l":7.02,"c":0.77},{"r":10,"l":8.3,"c":0.81},{"r":10,"l":9.56,"c":0.77},{"r":10,"l":12.1,"c":0.66},{"r":10,"l":14.65,"c":0.52},{"r":10,"l":17.2,"c":0.43},{"r":10,"l":20,"c":0.36},
{"r":11,"l":-15.5,"c":0.59},{"r":11,"l":-13.5,"c":0.63},{"r":11,"l":-11.5,"c":0.67},{"r":11,"l":-9.5,"c":0.70},{"r":11,"l":-7,"c":0.71},{"r":11,"l":-5,"c":0.73},{"r":11,"l":-2,"c":0.756},{"r":11,"l":0,"c":0.77},{"r":11,"l":2,"c":0.78},{"r":11,"l":4,"c":0.81},{"r":11,"l":6.5,"c":0.826},{"r":11,"l":8.5,"c":0.833},{"r":11,"l":10,"c":0.82},{"r":11,"l":12,"c":0.795},{"r":11,"l":14.5,"c":0.717},{"r":11,"l":16,"c":0.66},{"r":11,"l":17.5,"c":0.6},{"r":11,"l":20,"c":0.535},
{"r":12,"l":-15.5,"c":0.636},{"r":12,"l":-13.3,"c":0.68},{"r":12,"l":-11.4,"c":0.72},{"r":12,"l":-9.5,"c":0.75},{"r":12,"l":-7.6,"c":0.745},{"r":12,"l":-5.7,"c":0.76},{"r":12,"l":-3.16,"c":0.77},{"r":12,"l":-0.62,"c":0.786},{"r":12,"l":1.93,"c":0.8},{"r":12,"l":4.47,"c":0.81},{"r":12,"l":6.4,"c":0.82},{"r":12,"l":8.3,"c":0.81},{"r":12,"l":10.8,"c":0.77},{"r":12,"l":13.4,"c":0.70},{"r":12,"l":15.9,"c":0.62},{"r":12,"l":18.5,"c":0.55},{"r":12,"l":20,"c":0.5}
],
"hist":[
{"r":2,"l":-10.5,"h":0},{"r":2,"l":-10,"h":0.01},{"r":2,"l":-9.5,"h":0.12},{"r":2,"l":-9,"h":0.35},{"r":2,"l":-8.5,"h":0.5},{"r":2,"l":-8,"h":0.62},{"r":2,"l":-7.5,"h":0.55},{"r":2,"l":-7,"h":0.64},{"r":2,"l":-6.5,"h":0.5},{"r":2,"l":-6,"h":0.6},{"r":2,"l":-5.5,"h":0.52},{"r":2,"l":-5,"h":0.56},{"r":2,"l":-4.5,"h":0.5},{"r":2,"l":-4,"h":0.52},{"r":2,"l":-3.5,"h":0.4},{"r":2,"l":-3,"h":0.36},{"r":2,"l":-2.5,"h":0.35},{"r":2,"l":-2,"h":0.3},{"r":2,"l":-1.5,"h":0.28},{"r":2,"l":-1,"h":0.22},{"r":2,"l":-0.5,"h":0.15},{"r":2,"l":0,"h":0.1},{"r":2,"l":0.5,"h":0.06},{"r":2,"l":1,"h":0.04},{"r":2,"l":1.5,"h":0.02},{"r":2,"l":2,"h":0.01},{"r":2,"l":2.5,"h":0},
{"r":3,"l":-7,"h":0.2},{"r":3,"l":-6.5,"h":0.25},{"r":3,"l":-6,"h":0.29},{"r":3,"l":-5.5,"h":0.35},{"r":3,"l":-5,"h":0.42},{"r":3,"l":-4.5,"h":0.5},{"r":3,"l":-4,"h":0.6},{"r":3,"l":-3.5,"h":0.72},{"r":3,"l":-3,"h":0.74},{"r":3,"l":-2.5,"h":0.8},{"r":3,"l":-2,"h":0.75},{"r":3,"l":-1.5,"h":0.68},{"r":3,"l":-1,"h":0.6},{"r":3,"l":-0.5,"h":0.5},{"r":3,"l":0,"h":0.42},{"r":3,"l":0.5,"h":0.36},{"r":3,"l":1,"h":0.32},{"r":3,"l":1.5,"h":0.3},{"r":3,"l":2,"h":0.28},{"r":3,"l":2.5,"h":0.2},
{"r":4,"l":-5,"h":0.3},{"r":4,"l":-4.5,"h":0.38},{"r":4,"l":-4,"h":0.42},{"r":4,"l":-3.5,"h":0.47},{"r":4,"l":-3,"h":0.52},{"r":4,"l":-2.5,"h":0.58},{"r":4,"l":-2,"h":0.63},{"r":4,"l":-1.5,"h":0.68},{"r":4,"l":-1,"h":0.72},{"r":4,"l":-0.5,"h":0.78},{"r":4,"l":0,"h":0.84},{"r":4,"l":0.5,"h":0.87},{"r":4,"l":1,"h":0.86},{"r":4,"l":1.5,"h":0.82},{"r":4,"l":2,"h":0.72},{"r":4,"l":2.5,"h":0.66},{"r":4,"l":3,"h":0.6},{"r":4,"l":3.5,"h":0.55},{"r":4,"l":4,"h":0.5},{"r":4,"l":4.5,"h":0.46},{"r":4,"l":5,"h":0.42},{"r":4,"l":5.5,"h":0.39},{"r":4,"l":6,"h":0.37},{"r":4,"l":6.5,"h":0.3},
{"r":5,"l":-3.5,"h":0.25},{"r":5,"l":-3,"h":0.32},{"r":5,"l":-2.5,"h":0.36},{"r":5,"l":-2,"h":0.42},{"r":5,"l":-1.5,"h":0.47},{"r":5,"l":-1,"h":0.51},{"r":5,"l":-0.5,"h":0.55},{"r":5,"l":0,"h":0.62},{"r":5,"l":0.5,"h":0.69},{"r":5,"l":1,"h":0.74},{"r":5,"l":1.5,"h":0.77},{"r":5,"l":2,"h":0.73},{"r":5,"l":2.5,"h":0.67},{"r":5,"l":3,"h":0.58},{"r":5,"l":3.5,"h":0.52},{"r":5,"l":4,"h":0.48},{"r":5,"l":4.5,"h":0.44},{"r":5,"l":5,"h":0.4},{"r":5,"l":5.5,"h":0.37},{"r":5,"l":6,"h":0.34},{"r":5,"l":6.5,"h":0.32},{"r":5,"l":7,"h":0.25},
{"r":6,"l":-9,"h":0.1},{"r":6,"l":-8,"h":0.18},{"r":6,"l":-7,"h":0.2},{"r":6,"l":-6,"h":0.24},{"r":6,"l":-5,"h":0.3},{"r":6,"l":-4,"h":0.36},{"r":6,"l":-3,"h":0.43},{"r":6,"l":-2,"h":0.49},{"r":6,"l":-1.5,"h":0.51},{"r":6,"l":-1,"h":0.54},{"r":6,"l":-0.5,"h":0.55},{"r":6,"l":0,"h":0.58},{"r":6,"l":0.5,"h":0.52},{"r":6,"l":1,"h":0.58},{"r":6,"l":1.5,"h":0.5},{"r":6,"l":2,"h":0.52},{"r":6,"l":2.5,"h":0.47},{"r":6,"l":3,"h":0.45},{"r":6,"l":4,"h":0.4},{"r":6,"l":5,"h":0.35},{"r":6,"l":6,"h":0.3},{"r":6,"l":7,"h":0.28},{"r":6,"l":8,"h":0.24},{"r":6,"l":9,"h":0.22},{"r":6,"l":10,"h":0.2},{"r":6,"l":11,"h":0.19},{"r":6,"l":12,"h":0.18},{"r":6,"l":13,"h":0.1},
{"r":7,"l":-10,"h":0.3},{"r":7,"l":-9,"h":0.38},{"r":7,"l":-8,"h":0.4},{"r":7,"l":-7,"h":0.42},{"r":7,"l":-6,"h":0.46},{"r":7,"l":-5,"h":0.5},{"r":7,"l":-4,"h":0.56},{"r":7,"l":-3,"h":0.63},{"r":7,"l":-2,"h":0.69},{"r":7,"l":-1,"h":0.73},{"r":7,"l":-0.5,"h":0.735},{"r":7,"l":0,"h":0.7},{"r":7,"l":0.5,"h":0.67},{"r":7,"l":1,"h":0.62},{"r":7,"l":1.5,"h":0.59},{"r":7,"l":2,"h":0.56},{"r":7,"l":3,"h":0.51},{"r":7,"l":4,"h":0.47},{"r":7,"l":5,"h":0.44},{"r":7,"l":6,"h":0.42},{"r":7,"l":7,"h":0.41},{"r":7,"l":8,"h":0.4},{"r":7,"l":9,"h":0.39},{"r":7,"l":10,"h":0.3},
{"r":8,"l":-5.5,"h":0.3},{"r":8,"l":-5,"h":0.33},{"r":8,"l":-4.5,"h":0.35},{"r":8,"l":-4,"h":0.39},{"r":8,"l":-3.5,"h":0.43},{"r":8,"l":-3,"h":0.46},{"r":8,"l":-2.5,"h":0.5},{"r":8,"l":-2,"h":0.53},{"r":8,"l":-1.5,"h":0.55},{"r":8,"l":-1,"h":0.58},{"r":8,"l":-0.5,"h":0.6},{"r":8,"l":0,"h":0.61},{"r":8,"l":0.5,"h":0.62},{"r":8,"l":1,"h":0.64},{"r":8,"l":1.5,"h":0.65},{"r":8,"l":2,"h":0.66},{"r":8,"l":2.5,"h":0.69},{"r":8,"l":3,"h":0.7},{"r":8,"l":3.5,"h":0.66},{"r":8,"l":4,"h":0.68},{"r":8,"l":4.5,"h":0.7},{"r":8,"l":5,"h":0.66},{"r":8,"l":5.5,"h":0.6},{"r":8,"l":6,"h":0.52},{"r":8,"l":6.5,"h":0.46},{"r":8,"l":7,"h":0.4},{"r":8,"l":7.5,"h":0.36},{"r":8,"l":8,"h":0.34},{"r":8,"l":8.5,"h":0.3},
{"r":9,"l":-3.5,"h":0.3},{"r":9,"l":-3,"h":0.36},{"r":9,"l":-2,"h":0.4},{"r":9,"l":-1,"h":0.45},{"r":9,"l":0,"h":0.5},{"r":9,"l":1,"h":0.54},{"r":9,"l":2,"h":0.6},{"r":9,"l":3,"h":0.65},{"r":9,"l":4,"h":0.7},{"r":9,"l":4.5,"h":0.72},{"r":9,"l":5,"h":0.74},{"r":9,"l":5.5,"h":0.76},{"r":9,"l":6,"h":0.77},{"r":9,"l":6.5,"h":0.78},{"r":9,"l":7,"h":0.76},{"r":9,"l":7.5,"h":0.72},{"r":9,"l":8,"h":0.62},{"r":9,"l":8.5,"h":0.55},{"r":9,"l":9,"h":0.48},{"r":9,"l":9.5,"h":0.42},{"r":9,"l":10,"h":0.38},{"r":9,"l":10.5,"h":0.36},{"r":9,"l":11,"h":0.3},
{"r":10,"l":2.5,"h":0.2},{"r":10,"l":3,"h":0.24},{"r":10,"l":3.5,"h":0.26},{"r":10,"l":4,"h":0.28},{"r":10,"l":4.5,"h":0.31},{"r":10,"l":5,"h":0.36},{"r":10,"l":5.5,"h":0.42},{"r":10,"l":6,"h":0.48},{"r":10,"l":6.5,"h":0.55},{"r":10,"l":7,"h":0.66},{"r":10,"l":7.5,"h":0.76},{"r":10,"l":8,"h":0.81},{"r":10,"l":8.5,"h":0.81},{"r":10,"l":9,"h":0.8},{"r":10,"l":9.5,"h":0.72},{"r":10,"l":10,"h":0.58},{"r":10,"l":10.5,"h":0.42},{"r":10,"l":11,"h":0.32},{"r":10,"l":11.5,"h":0.26},{"r":10,"l":12,"h":0.24},{"r":10,"l":12.5,"h":0.2},
{"r":11,"l":-5.5,"h":0.5},{"r":11,"l":-5,"h":0.53},{"r":11,"l":-4,"h":0.57},{"r":11,"l":-3,"h":0.6},{"r":11,"l":-2,"h":0.64},{"r":11,"l":-1,"h":0.67},{"r":11,"l":0,"h":0.72},{"r":11,"l":0.5,"h":0.76},{"r":11,"l":1,"h":0.79},{"r":11,"l":1.5,"h":0.81},{"r":11,"l":2,"h":0.84},{"r":11,"l":2.5,"h":0.84},{"r":11,"l":3,"h":0.83},{"r":11,"l":3.5,"h":0.8},{"r":11,"l":4,"h":0.78},{"r":11,"l":5,"h":0.72},{"r":11,"l":6,"h":0.67},{"r":11,"l":7,"h":0.63},{"r":11,"l":8,"h":0.58},{"r":11,"l":9,"h":0.55},{"r":11,"l":10,"h":0.53},{"r":11,"l":10.5,"h":0.5},
{"r":12,"l":-6.5,"h":0.44},{"r":12,"l":-6,"h":0.47},{"r":12,"l":-5,"h":0.49},{"r":12,"l":-4,"h":0.52},{"r":12,"l":-3,"h":0.56},{"r":12,"l":-2.5,"h":0.6},{"r":12,"l":-2,"h":0.64},{"r":12,"l":-1.5,"h":0.7},{"r":12,"l":-1,"h":0.76},{"r":12,"l":-0.5,"h":0.79},{"r":12,"l":0,"h":0.78},{"r":12,"l":0.5,"h":0.75},{"r":12,"l":1,"h":0.72},{"r":12,"l":1.5,"h":0.69},{"r":12,"l":2,"h":0.65},{"r":12,"l":3,"h":0.6},{"r":12,"l":4,"h":0.56},{"r":12,"l":5,"h":0.52},{"r":12,"l":6,"h":0.5},{"r":12,"l":7,"h":0.48},{"r":12,"l":8,"h":0.47},{"r":12,"l":8.5,"h":0.44}
]
},
"concat":[
{"width":212,"height":43.5,"data":{"name":"top"},
 "layer":[
  {"mark":{"type":"errorbar","thickness":0.8},"encoding":{"x":{"field":"t","type":"quantitative","scale":{"domain":[9141,9406]},"axis":null},"y":{"field":"m","type":"quantitative","scale":{"domain":[12.565,13.0],"reverse":true},"axis":null},"yError":{"field":"e"},"color":{"field":"b","type":"nominal","scale":{"domain":["B (Lijiang)","g (ZTF)"],"range":["black","#e3262a"]}}}},
  {"mark":{"type":"point","filled":true,"size":8,"opacity":1},"encoding":{"x":{"field":"t","type":"quantitative","axis":{"values":[9150,9200,9250,9300,9350,9400],"labels":false,"title":null}},"y":{"field":"m","type":"quantitative","axis":{"values":[12.75,13.0],"format":".2f","title":"mag","titleX":-31}},"color":{"field":"b","type":"nominal"}}},
  {"mark":{"type":"point","opacity":0},"encoding":{"x":{"field":"t","type":"quantitative","axis":{"orient":"top","values":[9150,9200,9250,9300,9350,9400],"labels":false,"title":null}},"y":{"field":"m","type":"quantitative","axis":{"orient":"right","values":[12.75,13.0],"labels":false,"title":null}}}}
 ],
 "resolve":{"axis":{"x":"independent","y":"independent"}}},
{"width":94,"height":43.5,
 "layer":[
  {"data":{"name":"cc"},"transform":[{"filter":"datum.r==1"}],"mark":{"type":"line","color":"black","strokeWidth":1,"clip":true},"encoding":{"x":{"field":"l","type":"quantitative","scale":{"domain":[-15.5,20]},"axis":{"values":[-10,0,10,20],"labels":false,"title":null}},"y":{"field":"c","type":"quantitative","scale":{"domain":[0.24,1.056]},"axis":{"orient":"right","values":[0.5,1.0],"format":".1f","title":"ACF","titleAngle":90,"titleX":17,"titleY":34}}}},
  {"data":{"values":[{}]},"mark":{"type":"rule","color":"#888","strokeDash":[3,2],"strokeWidth":0.9},"encoding":{"x":{"datum":0,"type":"quantitative","axis":null}}},
  {"data":{"name":"cc"},"transform":[{"filter":"datum.r==1"}],"mark":{"type":"line","opacity":0},"encoding":{"x":{"field":"l","type":"quantitative","axis":{"orient":"top","values":[-10,0,10,20],"labels":false,"title":null}},"y":{"field":"c","type":"quantitative","axis":{"orient":"left","values":[0.5,1.0],"labels":false,"title":null}}}}
 ],
 "resolve":{"axis":{"x":"independent","y":"independent"}}},

{"width":212,"height":43.5,"data":{"name":"lc"},"transform":[{"filter":"datum.r==2"}],
 "layer":[
  {"mark":{"type":"errorbar","color":"black","thickness":0.8},"encoding":{"x":{"field":"t","type":"quantitative","scale":{"domain":[9141,9406]},"axis":null},"y":{"field":"f","type":"quantitative","scale":{"domain":[0.85,4.39]},"axis":null},"yError":{"field":"e"}}},
  {"mark":{"type":"point","filled":true,"color":"black","size":7,"opacity":1},"encoding":{"x":{"field":"t","type":"quantitative","axis":{"values":[9150,9200,9250,9300,9350,9400],"labels":false,"title":null}},"y":{"field":"f","type":"quantitative","axis":{"values":[2,4],"format":"d","title":null}}}},
  {"data":{"values":[{"s":"(-5561,-4617)"}]},"mark":{"type":"text","align":"left","baseline":"middle","color":"#4a92cf","fontSize":9.5},"encoding":{"x":{"datum":9155,"type":"quantitative","axis":null},"y":{"datum":3.47,"type":"quantitative","axis":null},"text":{"field":"s"}}},
  {"mark":{"type":"point","opacity":0},"encoding":{"x":{"field":"t","type":"quantitative","axis":{"orient":"top","values":[9150,9200,9250,9300,9350,9400],"labels":false,"title":null}},"y":{"field":"f","type":"quantitative","axis":{"orient":"right","values":[2,4],"labels":false,"title":null}}}}
 ],
 "resolve":{"axis":{"x":"independent","y":"independent"}}},
{"width":94,"height":43.5,
 "layer":[
  {"data":{"name":"hist"},"transform":[{"filter":"datum.r==2"}],"mark":{"type":"line","interpolate":"step","color":"#1f9a1f","strokeWidth":1,"clip":true},"encoding":{"x":{"field":"l","type":"quantitative","scale":{"domain":[-15.5,20]},"axis":{"values":[-10,0,10,20],"labels":false,"title":null}},"y":{"field":"h","type":"quantitative","scale":{"domain":[0,0.72]},"axis":{"orient":"right","values":[0,0.5],"format":".1f","title":null}}}},
  {"data":{"name":"cc"},"transform":[{"filter":"datum.r==2"}],"mark":{"type":"line","color":"black","strokeWidth":1,"clip":true},"encoding":{"x":{"field":"l","type":"quantitative","axis":null},"y":{"field":"c","type":"quantitative","axis":null}}},
  {"data":{"values":[{}]},"mark":{"type":"rule","color":"#888","strokeDash":[3,2],"strokeWidth":0.9},"encoding":{"x":{"datum":0,"type":"quantitative","axis":null}}},
  {"data":{"name":"cc"},"transform":[{"filter":"datum.r==2"}],"mark":{"type":"line","opacity":0},"encoding":{"x":{"field":"l","type":"quantitative","axis":{"orient":"top","values":[-10,0,10,20],"labels":false,"title":null}},"y":{"field":"c","type":"quantitative","axis":{"orient":"left","values":[0,0.5],"labels":false,"title":null}}}}
 ],
 "resolve":{"axis":{"x":"independent","y":"independent"}}},

{"width":212,"height":43.5,"data":{"name":"lc"},"transform":[{"filter":"datum.r==3"}],
 "layer":[
  {"mark":{"type":"errorbar","color":"black","thickness":0.8},"encoding":{"x":{"field":"t","type":"quantitative","scale":{"domain":[9141,9406]},"axis":null},"y":{"field":"f","type":"quantitative","scale":{"domain":[6.8,11.36]},"axis":null},"yError":{"field":"e"}}},
  {"mark":{"type":"point","filled":true,"color":"black","size":7,"opacity":1},"encoding":{"x":{"field":"t","type":"quantitative","axis":{"values":[9150,9200,9250,9300,9350,9400],"labels":false,"title":null}},"y":{"field":"f","type":"quantitative","axis":{"values":[7.5,10],"format":".1f","title":null}}}},
  {"data":{"values":[{"s":"(-4617,-3674)"}]},"mark":{"type":"text","align":"left","baseline":"middle","color":"#4a92cf","fontSize":9.5},"encoding":{"x":{"datum":9155,"type":"quantitative","axis":null},"y":{"datum":10.17,"type":"quantitative","axis":null},"text":{"field":"s"}}},
  {"mark":{"type":"point","opacity":0},"encoding":{"x":{"field":"t","type":"quantitative","axis":{"orient":"top","values":[9150,9200,9250,9300,9350,9400],"labels":false,"title":null}},"y":{"field":"f","type":"quantitative","axis":{"orient":"right","values":[7.5,10],"labels":false,"title":null}}}}
 ],
 "resolve":{"axis":{"x":"independent","y":"independent"}}},
{"width":94,"height":43.5,
 "layer":[
  {"data":{"name":"hist"},"transform":[{"filter":"datum.r==3"}],"mark":{"type":"line","interpolate":"step","color":"#1f9a1f","strokeWidth":1,"clip":true},"encoding":{"x":{"field":"l","type":"quantitative","scale":{"domain":[-15.5,20]},"axis":{"values":[-10,0,10,20],"labels":false,"title":null}},"y":{"field":"h","type":"quantitative","scale":{"domain":[0.29,0.855]},"axis":{"orient":"right","values":[0.5,0.75],"format":".2f","title":null}}}},
  {"data":{"name":"cc"},"transform":[{"filter":"datum.r==3"}],"mark":{"type":"line","color":"black","strokeWidth":1,"clip":true},"encoding":{"x":{"field":"l","type":"quantitative","axis":null},"y":{"field":"c","type":"quantitative","axis":null}}},
  {"data":{"values":[{}]},"mark":{"type":"rule","color":"#888","strokeDash":[3,2],"strokeWidth":0.9},"encoding":{"x":{"datum":0,"type":"quantitative","axis":null}}},
  {"data":{"name":"cc"},"transform":[{"filter":"datum.r==3"}],"mark":{"type":"line","opacity":0},"encoding":{"x":{"field":"l","type":"quantitative","axis":{"orient":"top","values":[-10,0,10,20],"labels":false,"title":null}},"y":{"field":"c","type":"quantitative","axis":{"orient":"left","values":[0.5,0.75],"labels":false,"title":null}}}}
 ],
 "resolve":{"axis":{"x":"independent","y":"independent"}}},

{"width":212,"height":43.5,"data":{"name":"lc"},"transform":[{"filter":"datum.r==4"}],
 "layer":[
  {"mark":{"type":"errorbar","color":"black","thickness":0.8},"encoding":{"x":{"field":"t","type":"quantitative","scale":{"domain":[9141,9406]},"axis":null},"y":{"field":"f","type":"quantitative","scale":{"domain":[11.4,18.95]},"axis":null},"yError":{"field":"e"}}},
  {"mark":{"type":"point","filled":true,"color":"black","size":7,"opacity":1},"encoding":{"x":{"field":"t","type":"quantitative","axis":{"values":[9150,9200,9250,9300,9350,9400],"labels":false,"title":null}},"y":{"field":"f","type":"quantitative","axis":{"values":[12.5,15,17.5],"format":".1f","title":null}}}},
  {"data":{"values":[{"s":"(-3674,-2730)"}]},"mark":{"type":"text","align":"left","baseline":"middle","color":"#4a92cf","fontSize":9.5},"encoding":{"x":{"datum":9155,"type":"quantitative","axis":null},"y":{"datum":16.99,"type":"quantitative","axis":null},"text":{"field":"s"}}},
  {"mark":{"type":"point","opacity":0},"encoding":{"x":{"field":"t","type":"quantitative","axis":{"orient":"top","values":[9150,9200,9250,9300,9350,9400],"labels":false,"title":null}},"y":{"field":"f","type":"quantitative","axis":{"orient":"right","values":[12.5,15,17.5],"labels":false,"title":null}}}}
 ],
 "resolve":{"axis":{"x":"independent","y":"independent"}}},
{"width":94,"height":43.5,
 "layer":[
  {"data":{"name":"hist"},"transform":[{"filter":"datum.r==4"}],"mark":{"type":"line","interpolate":"step","color":"#1f9a1f","strokeWidth":1,"clip":true},"encoding":{"x":{"field":"l","type":"quantitative","scale":{"domain":[-15.5,20]},"axis":{"values":[-10,0,10,20],"labels":false,"title":null}},"y":{"field":"h","type":"quantitative","scale":{"domain":[0.38,0.91]},"axis":{"orient":"right","values":[0.5,0.75],"format":".2f","title":null}}}},
  {"data":{"name":"cc"},"transform":[{"filter":"datum.r==4"}],"mark":{"type":"line","color":"black","strokeWidth":1,"clip":true},"encoding":{"x":{"field":"l","type":"quantitative","axis":null},"y":{"field":"c","type":"quantitative","axis":null}}},
  {"data":{"values":[{}]},"mark":{"type":"rule","color":"#888","strokeDash":[3,2],"strokeWidth":0.9},"encoding":{"x":{"datum":0,"type":"quantitative","axis":null}}},
  {"data":{"name":"cc"},"transform":[{"filter":"datum.r==4"}],"mark":{"type":"line","opacity":0},"encoding":{"x":{"field":"l","type":"quantitative","axis":{"orient":"top","values":[-10,0,10,20],"labels":false,"title":null}},"y":{"field":"c","type":"quantitative","axis":{"orient":"left","values":[0.5,0.75],"labels":false,"title":null}}}}
 ],
 "resolve":{"axis":{"x":"independent","y":"independent"}}},

{"width":212,"height":43.5,"data":{"name":"lc"},"transform":[{"filter":"datum.r==5"}],
 "layer":[
  {"mark":{"type":"errorbar","color":"black","thickness":0.8},"encoding":{"x":{"field":"t","type":"quantitative","scale":{"domain":[9141,9406]},"axis":null},"y":{"field":"f","type":"quantitative","scale":{"domain":[19.9,28.5]},"axis":null},"yError":{"field":"e"}}},
  {"mark":{"type":"point","filled":true,"color":"black","size":7,"opacity":1},"encoding":{"x":{"field":"t","type":"quantitative","axis":{"values":[9150,9200,9250,9300,9350,9400],"labels":false,"title":null}},"y":{"field":"f","type":"quantitative","axis":{"values":[20,25],"format":"d","title":null}}}},
  {"data":{"values":[{"s":"(-2730,-1787)"}]},"mark":{"type":"text","align":"left","baseline":"middle","color":"#4a92cf","fontSize":9.5},"encoding":{"x":{"datum":9155,"type":"quantitative","axis":null},"y":{"datum":26.26,"type":"quantitative","axis":null},"text":{"field":"s"}}},
  {"mark":{"type":"point","opacity":0},"encoding":{"x":{"field":"t","type":"quantitative","axis":{"orient":"top","values":[9150,9200,9250,9300,9350,9400],"labels":false,"title":null}},"y":{"field":"f","type":"quantitative","axis":{"orient":"right","values":[20,25],"labels":false,"title":null}}}}
 ],
 "resolve":{"axis":{"x":"independent","y":"independent"}}},
{"width":94,"height":43.5,
 "layer":[
  {"data":{"name":"hist"},"transform":[{"filter":"datum.r==5"}],"mark":{"type":"line","interpolate":"step","color":"#1f9a1f","strokeWidth":1,"clip":true},"encoding":{"x":{"field":"l","type":"quantitative","scale":{"domain":[-15.5,20]},"axis":{"values":[-10,0,10,20],"labels":false,"title":null}},"y":{"field":"h","type":"quantitative","scale":{"domain":[0.32,0.81]},"axis":{"orient":"right","values":[0.5,0.75],"format":".2f","title":null}}}},
  {"data":{"name":"cc"},"transform":[{"filter":"datum.r==5"}],"mark":{"type":"line","color":"black","strokeWidth":1,"clip":true},"encoding":{"x":{"field":"l","type":"quantitative","axis":null},"y":{"field":"c","type":"quantitative","axis":null}}},
  {"data":{"values":[{}]},"mark":{"type":"rule","color":"#888","strokeDash":[3,2],"strokeWidth":0.9},"encoding":{"x":{"datum":0,"type":"quantitative","axis":null}}},
  {"data":{"name":"cc"},"transform":[{"filter":"datum.r==5"}],"mark":{"type":"line","opacity":0},"encoding":{"x":{"field":"l","type":"quantitative","axis":{"orient":"top","values":[-10,0,10,20],"labels":false,"title":null}},"y":{"field":"c","type":"quantitative","axis":{"orient":"left","values":[0.5,0.75],"labels":false,"title":null}}}}
 ],
 "resolve":{"axis":{"x":"independent","y":"independent"}}},

{"width":212,"height":43.5,"data":{"name":"lc"},"transform":[{"filter":"datum.r==6"}],
 "layer":[
  {"mark":{"type":"errorbar","color":"black","thickness":0.8},"encoding":{"x":{"field":"t","type":"quantitative","scale":{"domain":[9141,9406]},"axis":null},"y":{"field":"f","type":"quantitative","scale":{"domain":[26.5,35.7]},"axis":null},"yError":{"field":"e"}}},
  {"mark":{"type":"point","filled":true,"color":"black","size":7,"opacity":1},"encoding":{"x":{"field":"t","type":"quantitative","axis":{"values":[9150,9200,9250,9300,9350,9400],"labels":false,"title":null}},"y":{"field":"f","type":"quantitative","axis":{"values":[30,35],"format":"d","title":"F(Hγ) (10⁻¹⁴ erg s⁻¹ cm⁻²)","titleX":-26,"titleY":44}}}},
  {"data":{"values":[{"s":"(-1787,-843)"}]},"mark":{"type":"text","align":"left","baseline":"middle","color":"#4a92cf","fontSize":9.5},"encoding":{"x":{"datum":9155,"type":"quantitative","axis":null},"y":{"datum":33.31,"type":"quantitative","axis":null},"text":{"field":"s"}}},
  {"mark":{"type":"point","opacity":0},"encoding":{"x":{"field":"t","type":"quantitative","axis":{"orient":"top","values":[9150,9200,9250,9300,9350,9400],"labels":false,"title":null}},"y":{"field":"f","type":"quantitative","axis":{"orient":"right","values":[30,35],"labels":false,"title":null}}}}
 ],
 "resolve":{"axis":{"x":"independent","y":"independent"}}},
{"width":94,"height":43.5,
 "layer":[
  {"data":{"name":"hist"},"transform":[{"filter":"datum.r==6"}],"mark":{"type":"line","interpolate":"step","color":"#1f9a1f","strokeWidth":1,"clip":true},"encoding":{"x":{"field":"l","type":"quantitative","scale":{"domain":[-15.5,20]},"axis":{"values":[-10,0,10,20],"labels":false,"title":null}},"y":{"field":"h","type":"quantitative","scale":{"domain":[0.18,0.61]},"axis":{"orient":"right","values":[0.25,0.5],"format":".2f","title":null}}}},
  {"data":{"name":"cc"},"transform":[{"filter":"datum.r==6"}],"mark":{"type":"line","color":"black","strokeWidth":1,"clip":true},"encoding":{"x":{"field":"l","type":"quantitative","axis":null},"y":{"field":"c","type":"quantitative","axis":null}}},
  {"data":{"values":[{}]},"mark":{"type":"rule","color":"#888","strokeDash":[3,2],"strokeWidth":0.9},"encoding":{"x":{"datum":0,"type":"quantitative","axis":null}}},
  {"data":{"name":"cc"},"transform":[{"filter":"datum.r==6"}],"mark":{"type":"line","opacity":0},"encoding":{"x":{"field":"l","type":"quantitative","axis":{"orient":"top","values":[-10,0,10,20],"labels":false,"title":null}},"y":{"field":"c","type":"quantitative","axis":{"orient":"left","values":[0.25,0.5],"labels":false,"title":null}}}}
 ],
 "resolve":{"axis":{"x":"independent","y":"independent"}}},

{"width":212,"height":43.5,"data":{"name":"lc"},"transform":[{"filter":"datum.r==7"}],
 "layer":[
  {"mark":{"type":"errorbar","color":"black","thickness":0.8},"encoding":{"x":{"field":"t","type":"quantitative","scale":{"domain":[9141,9406]},"axis":null},"y":{"field":"f","type":"quantitative","scale":{"domain":[52,70.7]},"axis":null},"yError":{"field":"e"}}},
  {"mark":{"type":"point","filled":true,"color":"black","size":7,"opacity":1},"encoding":{"x":{"field":"t","type":"quantitative","axis":{"values":[9150,9200,9250,9300,9350,9400],"labels":false,"title":null}},"y":{"field":"f","type":"quantitative","axis":{"values":[60,70],"format":"d","title":null}}}},
  {"data":{"values":[{"s":"(-843,100)"}]},"mark":{"type":"text","align":"left","baseline":"middle","color":"#4a92cf","fontSize":9.5},"encoding":{"x":{"datum":9155,"type":"quantitative","axis":null},"y":{"datum":65.84,"type":"quantitative","axis":null},"text":{"field":"s"}}},
  {"mark":{"type":"point","opacity":0},"encoding":{"x":{"field":"t","type":"quantitative","axis":{"orient":"top","values":[9150,9200,9250,9300,9350,9400],"labels":false,"title":null}},"y":{"field":"f","type":"quantitative","axis":{"orient":"right","values":[60,70],"labels":false,"title":null}}}}
 ],
 "resolve":{"axis":{"x":"independent","y":"independent"}}},
{"width":94,"height":43.5,
 "layer":[
  {"data":{"name":"hist"},"transform":[{"filter":"datum.r==7"}],"mark":{"type":"line","interpolate":"step","color":"#1f9a1f","strokeWidth":1,"clip":true},"encoding":{"x":{"field":"l","type":"quantitative","scale":{"domain":[-15.5,20]},"axis":{"values":[-10,0,10,20],"labels":false,"title":null}},"y":{"field":"h","type":"quantitative","scale":{"domain":[0.4,0.756]},"axis":{"orient":"right","values":[0.4,0.6],"format":".1f","title":"CCF","titleAngle":90,"titleX":23,"titleY":10}}}},
  {"data":{"name":"cc"},"transform":[{"filter":"datum.r==7"}],"mark":{"type":"line","color":"black","strokeWidth":1,"clip":true},"encoding":{"x":{"field":"l","type":"quantitative","axis":null},"y":{"field":"c","type":"quantitative","axis":null}}},
  {"data":{"values":[{}]},"mark":{"type":"rule","color":"#888","strokeDash":[3,2],"strokeWidth":0.9},"encoding":{"x":{"datum":0,"type":"quantitative","axis":null}}},
  {"data":{"name":"cc"},"transform":[{"filter":"datum.r==7"}],"mark":{"type":"line","opacity":0},"encoding":{"x":{"field":"l","type":"quantitative","axis":{"orient":"top","values":[-10,0,10,20],"labels":false,"title":null}},"y":{"field":"c","type":"quantitative","axis":{"orient":"left","values":[0.4,0.6],"labels":false,"title":null}}}}
 ],
 "resolve":{"axis":{"x":"independent","y":"independent"}}},

{"width":212,"height":43.5,"data":{"name":"lc"},"transform":[{"filter":"datum.r==8"}],
 "layer":[
  {"mark":{"type":"errorbar","color":"black","thickness":0.8},"encoding":{"x":{"field":"t","type":"quantitative","scale":{"domain":[9141,9406]},"axis":null},"y":{"field":"f","type":"quantitative","scale":{"domain":[47,72.6]},"axis":null},"yError":{"field":"e"}}},
  {"mark":{"type":"point","filled":true,"color":"black","size":7,"opacity":1},"encoding":{"x":{"field":"t","type":"quantitative","axis":{"values":[9150,9200,9250,9300,9350,9400],"labels":false,"title":null}},"y":{"field":"f","type":"quantitative","axis":{"values":[50,60,70],"format":"d","title":null}}}},
  {"data":{"values":[{"s":"(100,1043)"}]},"mark":{"type":"text","align":"left","baseline":"middle","color":"#4a92cf","fontSize":9.5},"encoding":{"x":{"datum":9155,"type":"quantitative","axis":null},"y":{"datum":65.94,"type":"quantitative","axis":null},"text":{"field":"s"}}},
  {"mark":{"type":"point","opacity":0},"encoding":{"x":{"field":"t","type":"quantitative","axis":{"orient":"top","values":[9150,9200,9250,9300,9350,9400],"labels":false,"title":null}},"y":{"field":"f","type":"quantitative","axis":{"orient":"right","values":[50,60,70],"labels":false,"title":null}}}}
 ],
 "resolve":{"axis":{"x":"independent","y":"independent"}}},
{"width":94,"height":43.5,
 "layer":[
  {"data":{"name":"hist"},"transform":[{"filter":"datum.r==8"}],"mark":{"type":"line","interpolate":"step","color":"#1f9a1f","strokeWidth":1,"clip":true},"encoding":{"x":{"field":"l","type":"quantitative","scale":{"domain":[-15.5,20]},"axis":{"values":[-10,0,10,20],"labels":false,"title":null}},"y":{"field":"h","type":"quantitative","scale":{"domain":[0.35,0.72]},"axis":{"orient":"right","values":[0.4,0.6],"format":".1f","title":null}}}},
  {"data":{"name":"cc"},"transform":[{"filter":"datum.r==8"}],"mark":{"type":"line","color":"black","strokeWidth":1,"clip":true},"encoding":{"x":{"field":"l","type":"quantitative","axis":null},"y":{"field":"c","type":"quantitative","axis":null}}},
  {"data":{"values":[{}]},"mark":{"type":"rule","color":"#888","strokeDash":[3,2],"strokeWidth":0.9},"encoding":{"x":{"datum":0,"type":"quantitative","axis":null}}},
  {"data":{"name":"cc"},"transform":[{"filter":"datum.r==8"}],"mark":{"type":"line","opacity":0},"encoding":{"x":{"field":"l","type":"quantitative","axis":{"orient":"top","values":[-10,0,10,20],"labels":false,"title":null}},"y":{"field":"c","type":"quantitative","axis":{"orient":"left","values":[0.4,0.6],"labels":false,"title":null}}}}
 ],
 "resolve":{"axis":{"x":"independent","y":"independent"}}},

{"width":212,"height":43.5,"data":{"name":"lc"},"transform":[{"filter":"datum.r==9"}],
 "layer":[
  {"mark":{"type":"errorbar","color":"black","thickness":0.8},"encoding":{"x":{"field":"t","type":"quantitative","scale":{"domain":[9141,9406]},"axis":null},"y":{"field":"f","type":"quantitative","scale":{"domain":[38.4,54]},"axis":null},"yError":{"field":"e"}}},
  {"mark":{"type":"point","filled":true,"color":"black","size":7,"opacity":1},"encoding":{"x":{"field":"t","type":"quantitative","axis":{"values":[9150,9200,9250,9300,9350,9400],"labels":false,"title":null}},"y":{"field":"f","type":"quantitative","axis":{"values":[40,50],"format":"d","title":null}}}},
  {"data":{"values":[{"s":"(1043,1987)"}]},"mark":{"type":"text","align":"left","baseline":"middle","color":"#4a92cf","fontSize":9.5},"encoding":{"x":{"datum":9155,"type":"quantitative","axis":null},"y":{"datum":49.94,"type":"quantitative","axis":null},"text":{"field":"s"}}},
  {"mark":{"type":"point","opacity":0},"encoding":{"x":{"field":"t","type":"quantitative","axis":{"orient":"top","values":[9150,9200,9250,9300,9350,9400],"labels":false,"title":null}},"y":{"field":"f","type":"quantitative","axis":{"orient":"right","values":[40,50],"labels":false,"title":null}}}}
 ],
 "resolve":{"axis":{"x":"independent","y":"independent"}}},
{"width":94,"height":43.5,
 "layer":[
  {"data":{"name":"hist"},"transform":[{"filter":"datum.r==9"}],"mark":{"type":"line","interpolate":"step","color":"#1f9a1f","strokeWidth":1,"clip":true},"encoding":{"x":{"field":"l","type":"quantitative","scale":{"domain":[-15.5,20]},"axis":{"values":[-10,0,10,20],"labels":false,"title":null}},"y":{"field":"h","type":"quantitative","scale":{"domain":[0.36,0.79]},"axis":{"orient":"right","values":[0.5,0.75],"format":".2f","title":null}}}},
  {"data":{"name":"cc"},"transform":[{"filter":"datum.r==9"}],"mark":{"type":"line","color":"black","strokeWidth":1,"clip":true},"encoding":{"x":{"field":"l","type":"quantitative","axis":null},"y":{"field":"c","type":"quantitative","axis":null}}},
  {"data":{"values":[{}]},"mark":{"type":"rule","color":"#888","strokeDash":[3,2],"strokeWidth":0.9},"encoding":{"x":{"datum":0,"type":"quantitative","axis":null}}},
  {"data":{"name":"cc"},"transform":[{"filter":"datum.r==9"}],"mark":{"type":"line","opacity":0},"encoding":{"x":{"field":"l","type":"quantitative","axis":{"orient":"top","values":[-10,0,10,20],"labels":false,"title":null}},"y":{"field":"c","type":"quantitative","axis":{"orient":"left","values":[0.5,0.75],"labels":false,"title":null}}}}
 ],
 "resolve":{"axis":{"x":"independent","y":"independent"}}},

{"width":212,"height":43.5,"data":{"name":"lc"},"transform":[{"filter":"datum.r==10"}],
 "layer":[
  {"mark":{"type":"errorbar","color":"black","thickness":0.8},"encoding":{"x":{"field":"t","type":"quantitative","scale":{"domain":[9141,9406]},"axis":null},"y":{"field":"f","type":"quantitative","scale":{"domain":[14.5,26.2]},"axis":null},"yError":{"field":"e"}}},
  {"mark":{"type":"point","filled":true,"color":"black","size":7,"opacity":1},"encoding":{"x":{"field":"t","type":"quantitative","axis":{"values":[9150,9200,9250,9300,9350,9400],"labels":false,"title":null}},"y":{"field":"f","type":"quantitative","axis":{"values":[15,20,25],"format":"d","title":null}}}},
  {"data":{"values":[{"s":"(1987,2930)"}]},"mark":{"type":"text","align":"left","baseline":"middle","color":"#4a92cf","fontSize":9.5},"encoding":{"x":{"datum":9155,"type":"quantitative","axis":null},"y":{"datum":23.16,"type":"quantitative","axis":null},"text":{"field":"s"}}},
  {"mark":{"type":"point","opacity":0},"encoding":{"x":{"field":"t","type":"quantitative","axis":{"orient":"top","values":[9150,9200,9250,9300,9350,9400],"labels":false,"title":null}},"y":{"field":"f","type":"quantitative","axis":{"orient":"right","values":[15,20,25],"labels":false,"title":null}}}}
 ],
 "resolve":{"axis":{"x":"independent","y":"independent"}}},
{"width":94,"height":43.5,
 "layer":[
  {"data":{"name":"hist"},"transform":[{"filter":"datum.r==10"}],"mark":{"type":"line","interpolate":"step","color":"#1f9a1f","strokeWidth":1,"clip":true},"encoding":{"x":{"field":"l","type":"quantitative","scale":{"domain":[-15.5,20]},"axis":{"values":[-10,0,10,20],"labels":false,"title":null}},"y":{"field":"h","type":"quantitative","scale":{"domain":[0.24,0.833]},"axis":{"orient":"right","values":[0.25,0.5,0.75],"format":".2f","title":null}}}},
  {"data":{"name":"cc"},"transform":[{"filter":"datum.r==10"}],"mark":{"type":"line","color":"black","strokeWidth":1,"clip":true},"encoding":{"x":{"field":"l","type":"quantitative","axis":null},"y":{"field":"c","type":"quantitative","axis":null}}},
  {"data":{"values":[{}]},"mark":{"type":"rule","color":"#888","strokeDash":[3,2],"strokeWidth":0.9},"encoding":{"x":{"datum":0,"type":"quantitative","axis":null}}},
  {"data":{"name":"cc"},"transform":[{"filter":"datum.r==10"}],"mark":{"type":"line","opacity":0},"encoding":{"x":{"field":"l","type":"quantitative","axis":{"orient":"top","values":[-10,0,10,20],"labels":false,"title":null}},"y":{"field":"c","type":"quantitative","axis":{"orient":"left","values":[0.25,0.5,0.75],"labels":false,"title":null}}}}
 ],
 "resolve":{"axis":{"x":"independent","y":"independent"}}},

{"width":212,"height":43.5,"data":{"name":"lc"},"transform":[{"filter":"datum.r==11"}],
 "layer":[
  {"mark":{"type":"errorbar","color":"black","thickness":0.8},"encoding":{"x":{"field":"t","type":"quantitative","scale":{"domain":[9141,9406]},"axis":null},"y":{"field":"f","type":"quantitative","scale":{"domain":[1.1,8.2]},"axis":null},"yError":{"field":"e"}}},
  {"mark":{"type":"point","filled":true,"color":"black","size":7,"opacity":1},"encoding":{"x":{"field":"t","type":"quantitative","axis":{"values":[9150,9200,9250,9300,9350,9400],"labels":false,"title":null}},"y":{"field":"f","type":"quantitative","axis":{"values":[2.5,5,7.5],"format":".1f","title":null}}}},
  {"data":{"values":[{"s":"(2930,3874)"}]},"mark":{"type":"text","align":"left","baseline":"middle","color":"#4a92cf","fontSize":9.5},"encoding":{"x":{"datum":9155,"type":"quantitative","axis":null},"y":{"datum":6.35,"type":"quantitative","axis":null},"text":{"field":"s"}}},
  {"mark":{"type":"point","opacity":0},"encoding":{"x":{"field":"t","type":"quantitative","axis":{"orient":"top","values":[9150,9200,9250,9300,9350,9400],"labels":false,"title":null}},"y":{"field":"f","type":"quantitative","axis":{"orient":"right","values":[2.5,5,7.5],"labels":false,"title":null}}}}
 ],
 "resolve":{"axis":{"x":"independent","y":"independent"}}},
{"width":94,"height":43.5,
 "layer":[
  {"data":{"name":"hist"},"transform":[{"filter":"datum.r==11"}],"mark":{"type":"line","interpolate":"step","color":"#1f9a1f","strokeWidth":1,"clip":true},"encoding":{"x":{"field":"l","type":"quantitative","scale":{"domain":[-15.5,20]},"axis":{"values":[-10,0,10,20],"labels":false,"title":null}},"y":{"field":"h","type":"quantitative","scale":{"domain":[0.535,0.857]},"axis":{"orient":"right","values":[0.6,0.8],"format":".1f","title":null}}}},
  {"data":{"name":"cc"},"transform":[{"filter":"datum.r==11"}],"mark":{"type":"line","color":"black","strokeWidth":1,"clip":true},"encoding":{"x":{"field":"l","type":"quantitative","axis":null},"y":{"field":"c","type":"quantitative","axis":null}}},
  {"data":{"values":[{}]},"mark":{"type":"rule","color":"#888","strokeDash":[3,2],"strokeWidth":0.9},"encoding":{"x":{"datum":0,"type":"quantitative","axis":null}}},
  {"data":{"name":"cc"},"transform":[{"filter":"datum.r==11"}],"mark":{"type":"line","opacity":0},"encoding":{"x":{"field":"l","type":"quantitative","axis":{"orient":"top","values":[-10,0,10,20],"labels":false,"title":null}},"y":{"field":"c","type":"quantitative","axis":{"orient":"left","values":[0.6,0.8],"labels":false,"title":null}}}}
 ],
 "resolve":{"axis":{"x":"independent","y":"independent"}}},

{"width":212,"height":43.5,"data":{"name":"lc"},"transform":[{"filter":"datum.r==12"}],
 "layer":[
  {"mark":{"type":"errorbar","color":"black","thickness":0.8},"encoding":{"x":{"field":"t","type":"quantitative","scale":{"domain":[9141,9406]},"axis":null},"y":{"field":"f","type":"quantitative","scale":{"domain":[-1.35,2.74]},"axis":null},"yError":{"field":"e"}}},
  {"mark":{"type":"point","filled":true,"color":"black","size":7,"opacity":1},"encoding":{"x":{"field":"t","type":"quantitative","axis":{"values":[9150,9200,9250,9300,9350,9400],"format":"d","labelFlush":false,"labelOverlap":false,"labelBound":false,"title":"JD − 2450000","titlePadding":4}},"y":{"field":"f","type":"quantitative","axis":{"values":[0,2],"format":"d","title":null}}}},
  {"data":{"values":[{"s":"(3874,4806)"}]},"mark":{"type":"text","align":"left","baseline":"middle","color":"#4a92cf","fontSize":9.5},"encoding":{"x":{"datum":9155,"type":"quantitative","axis":null},"y":{"datum":1.68,"type":"quantitative","axis":null},"text":{"field":"s"}}},
  {"mark":{"type":"point","opacity":0},"encoding":{"x":{"field":"t","type":"quantitative","axis":{"orient":"top","values":[9150,9200,9250,9300,9350,9400],"labels":false,"title":null}},"y":{"field":"f","type":"quantitative","axis":{"orient":"right","values":[0,2],"labels":false,"title":null}}}}
 ],
 "resolve":{"axis":{"x":"independent","y":"independent"}}},
{"width":94,"height":43.5,
 "layer":[
  {"data":{"name":"hist"},"transform":[{"filter":"datum.r==12"}],"mark":{"type":"line","interpolate":"step","color":"#1f9a1f","strokeWidth":1,"clip":true},"encoding":{"x":{"field":"l","type":"quantitative","scale":{"domain":[-15.5,20]},"axis":{"values":[-10,0,10,20],"labelFlush":false,"labelOverlap":false,"labelBound":false,"title":"Lag (day)","titlePadding":4}},"y":{"field":"h","type":"quantitative","scale":{"domain":[0.48,0.83]},"axis":{"orient":"right","values":[0.6,0.8],"format":".1f","title":null}}}},
  {"data":{"name":"cc"},"transform":[{"filter":"datum.r==12"}],"mark":{"type":"line","color":"black","strokeWidth":1,"clip":true},"encoding":{"x":{"field":"l","type":"quantitative","axis":null},"y":{"field":"c","type":"quantitative","axis":null}}},
  {"data":{"values":[{}]},"mark":{"type":"rule","color":"#888","strokeDash":[3,2],"strokeWidth":0.9},"encoding":{"x":{"datum":0,"type":"quantitative","axis":null}}},
  {"data":{"name":"cc"},"transform":[{"filter":"datum.r==12"}],"mark":{"type":"line","opacity":0},"encoding":{"x":{"field":"l","type":"quantitative","axis":{"orient":"top","values":[-10,0,10,20],"labels":false,"title":null}},"y":{"field":"c","type":"quantitative","axis":{"orient":"left","values":[0.6,0.8],"labels":false,"title":null}}}}
 ],
 "resolve":{"axis":{"x":"independent","y":"independent"}}}
],
"config":{
 "font":"Liberation Serif",
 "view":{"stroke":"black","strokeWidth":1.2},
 "axis":{"domain":false,"grid":false,"tickColor":"black","tickSize":-4,"tickWidth":0.8,"labelPadding":6,"labelFontSize":9.5,"labelColor":"#222","labelFont":"Liberation Serif","titleFont":"Liberation Serif","titleFontSize":13,"titleFontWeight":"normal","titleColor":"#222"},
 "legend":{"orient":"top-left","direction":"horizontal","title":null,"labelFontSize":7.5,"symbolSize":14,"symbolType":"circle","offset":3,"padding":1,"columnPadding":8,"labelFont":"Liberation Serif","labelColor":"#222","symbolStrokeWidth":1}
}
}
